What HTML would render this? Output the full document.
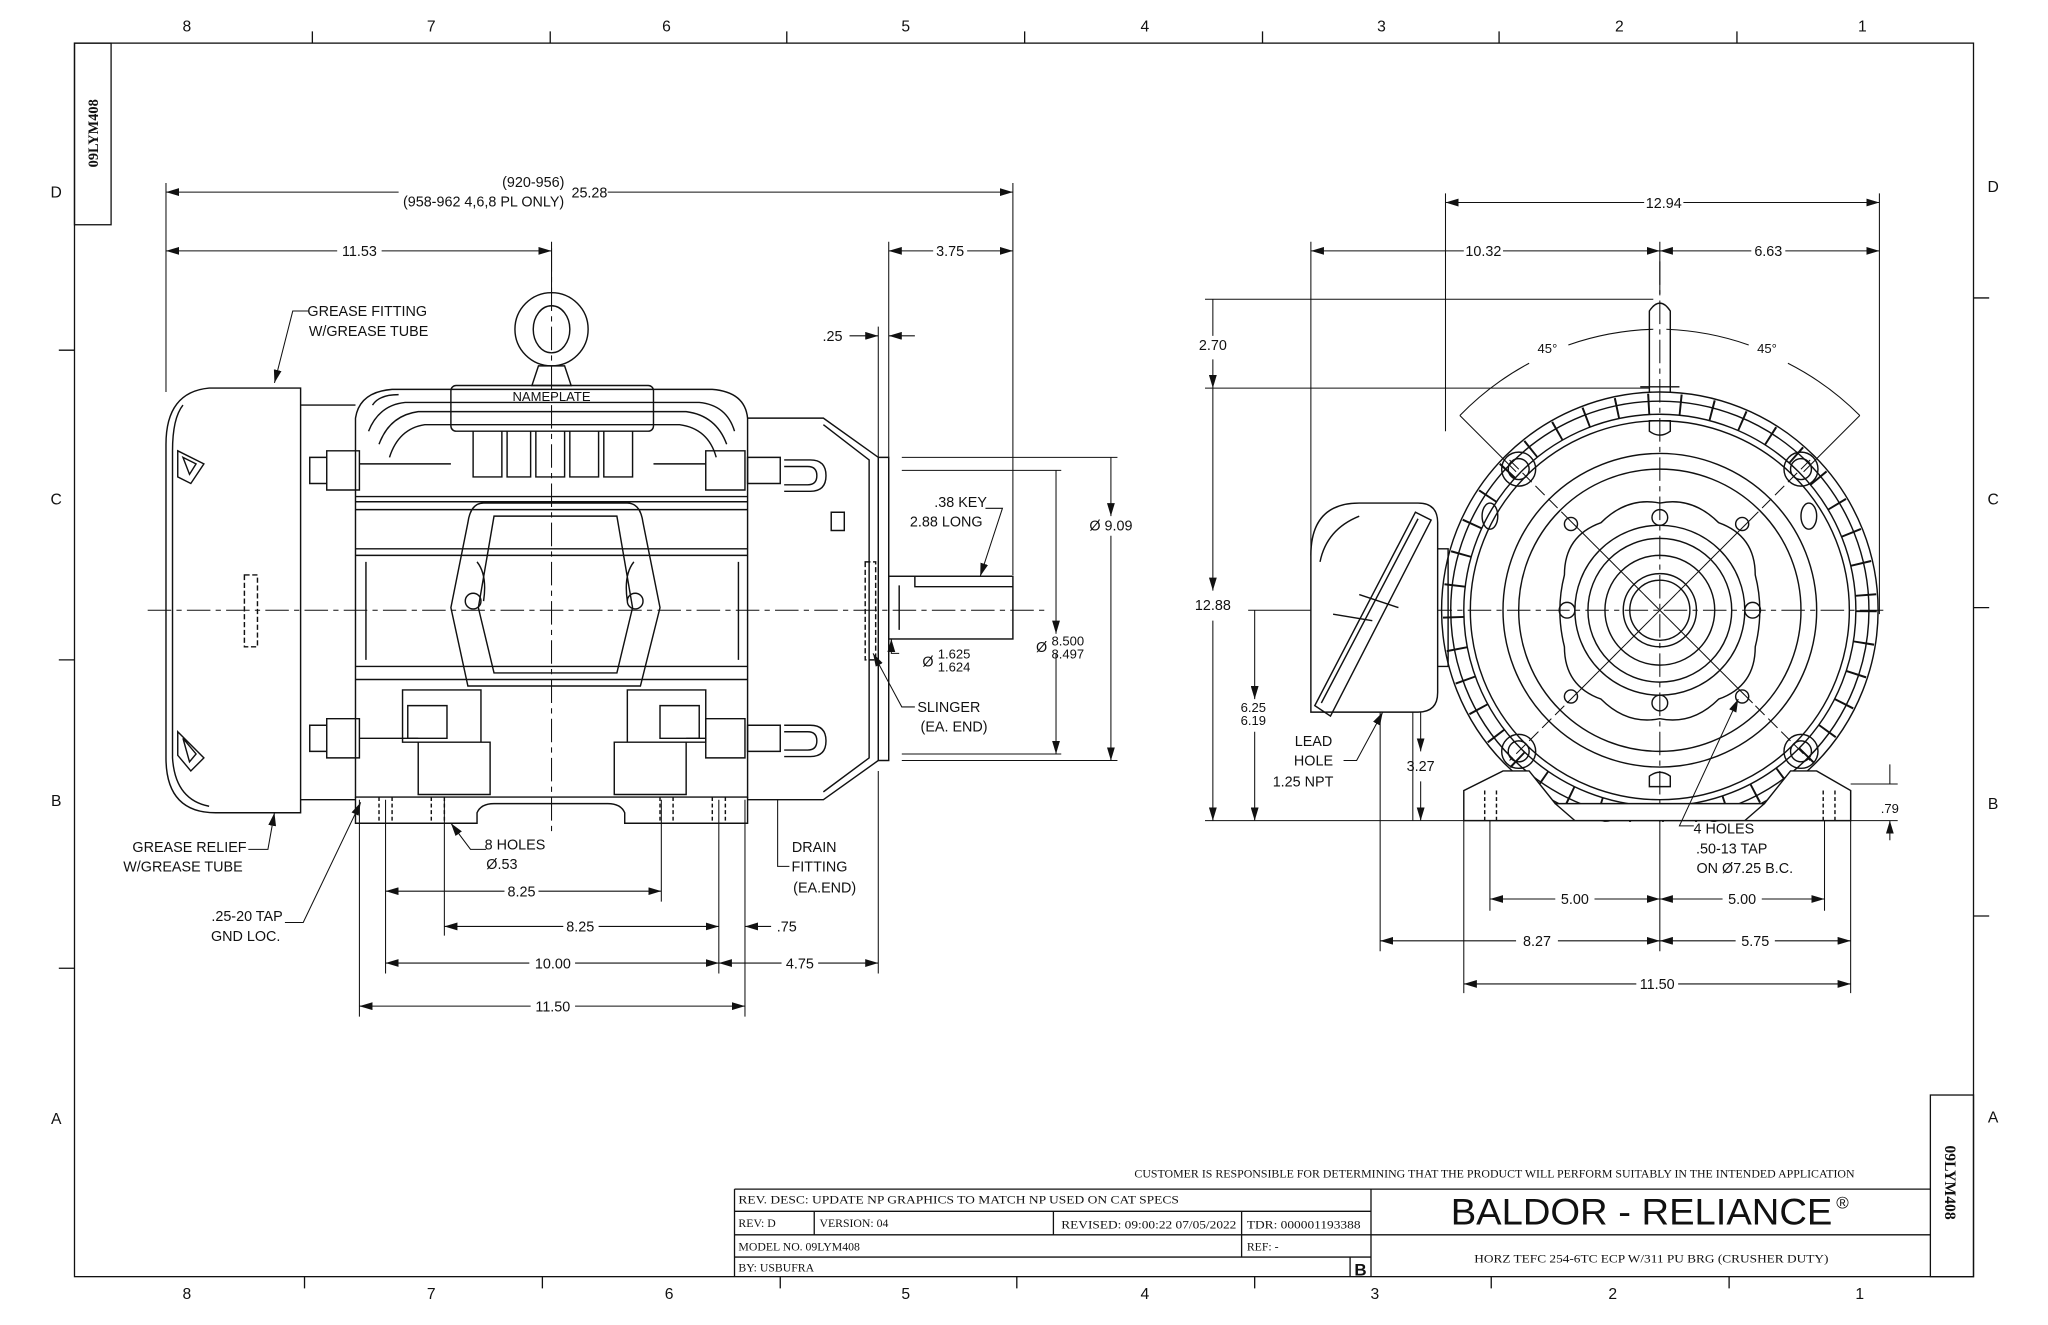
<!DOCTYPE html>
<html><head><meta charset="utf-8"><style>
html,body{margin:0;padding:0;background:#fff}
svg{display:block}
text{font-family:"Liberation Sans",sans-serif;fill:#111}
.s{font-family:"Liberation Serif",serif}
</style></head><body>
<svg width="2048" height="1325" viewBox="0 0 1567 1014" preserveAspectRatio="none" xmlns="http://www.w3.org/2000/svg">
<defs>
<marker id="a" viewBox="0 0 10 6" refX="10" refY="3" markerWidth="10" markerHeight="6" markerUnits="userSpaceOnUse" orient="auto-start-reverse"><path d="M0,0L10,3L0,6z" fill="#111"/></marker>
</defs>
<rect width="1567" height="1014" fill="#fff"/>
<g stroke="#111" fill="none" stroke-width="1">
<rect x="57" y="33" width="1453" height="944"/>
<rect x="57" y="33" width="28" height="139"/>
<rect x="1477" y="838" width="33" height="139"/>
<path d="M239,24v9M421,24v9M602,24v9M784,24v9M966,24v9M1147,24v9M1329,24v9"/>
<path d="M233,977v9M415,977v9M597,977v9M778,977v9M960,977v9M1141,977v9M1323,977v9"/>
<path d="M45,268h12M45,505h12M45,741h12M1510,228h12M1510,465h12M1510,701h12"/>
<path d="M562,910H1477M562,910V977M1049,910V977M562,927H1049M562,945H1477M562,962H1049M623,927V945M806,927V945M950,927V962M1033,962V977"/>
</g>
<g font-size="12" text-anchor="middle">
<text x="143" y="24">8</text><text x="330" y="24">7</text><text x="510" y="24">6</text><text x="693" y="24">5</text><text x="876" y="24">4</text><text x="1057" y="24">3</text><text x="1239" y="24">2</text><text x="1425" y="24">1</text>
<text x="143" y="994">8</text><text x="330" y="994">7</text><text x="512" y="994">6</text><text x="693" y="994">5</text><text x="876" y="994">4</text><text x="1052" y="994">3</text><text x="1234" y="994">2</text><text x="1423" y="994">1</text>
<text x="43" y="151">D</text><text x="43" y="386">C</text><text x="43" y="617">B</text><text x="43" y="860">A</text>
<text x="1525" y="147">D</text><text x="1525" y="386">C</text><text x="1525" y="619">B</text><text x="1525" y="859">A</text>
</g>
<text class="s" font-size="11" transform="translate(75,102) rotate(-90)" text-anchor="middle" font-weight="bold">09LYM408</text>
<text class="s" font-size="12" transform="translate(1488,905) rotate(90)" text-anchor="middle" font-weight="bold">09LYM408</text>
<g class="s" font-size="9">
<text class="s" x="868" y="901" font-size="8.5" textLength="551" lengthAdjust="spacingAndGlyphs">CUSTOMER IS RESPONSIBLE FOR DETERMINING THAT THE PRODUCT WILL PERFORM SUITABLY IN THE INTENDED APPLICATION</text>
<text class="s" x="565" y="921" textLength="337" lengthAdjust="spacingAndGlyphs">REV. DESC: UPDATE NP GRAPHICS TO MATCH NP USED ON CAT SPECS</text>
<text class="s" x="565" y="939">REV:  D</text>
<text class="s" x="627" y="939">VERSION:  04</text>
<text class="s" x="812" y="940" font-size="8.5" textLength="134" lengthAdjust="spacingAndGlyphs">REVISED:  09:00:22 07/05/2022</text>
<text class="s" x="954" y="940" font-size="8.5" textLength="87" lengthAdjust="spacingAndGlyphs">TDR: 000001193388</text>
<text class="s" x="565" y="957">MODEL NO.  09LYM408</text>
<text class="s" x="954" y="957">REF:  -</text>
<text class="s" x="565" y="973">BY: USBUFRA</text>
<text class="s" x="1128" y="966" textLength="271" lengthAdjust="spacingAndGlyphs">HORZ TEFC 254-6TC ECP W/311 PU BRG (CRUSHER DUTY)</text>
</g>
<text x="1041" y="976" font-size="13" font-weight="bold" text-anchor="middle">B</text>
<text x="1110" y="937" font-size="28" textLength="292" lengthAdjust="spacingAndGlyphs">BALDOR - RELIANCE</text>
<text x="1405" y="925" font-size="13">®</text>

<!-- LEFT VIEW -->
<g stroke="#111" fill="none" stroke-width="1.1">
<path d="M230,297H160Q127,300 127,340V580Q127,622 165,622H230Z"/>
<path d="M140,310Q132,320 132,345V580Q134,612 160,617"/>
<path d="M230,310H272M230,612H272"/>
<path d="M136,345l20,10l-10,15l-10,-5zM140,350l10,5l-5,8zM136,560l20,20l-10,10l-10,-12zM140,565l10,12l-5,6z"/>
<rect x="187" y="440" width="10" height="55" stroke-dasharray="4,2"/>
<path d="M272,320Q275,300 300,298H545Q570,300 572,320V610H272Z"/>
<path d="M285,310Q290,302 305,302M282,330Q290,310 310,308H535Q556,310 562,330M290,340Q298,318 320,315H525Q548,318 556,340M298,350Q305,328 325,325H520Q542,328 548,350"/>
<rect x="345" y="295" width="155" height="35" rx="4"/>
<path d="M362,330V365H384V330M410,330V365H432V330M436,330V365H458V330M462,330V365H484V330M388,330V365H406V330"/>
<path d="M272,380H572M272,384H572M272,390H572M272,420H572M272,425H572M272,510H572M272,520H572M280,430V505M565,430V505"/>
<path d="M250,345h25v30h-25zM237,350h13v20h-13zM540,345h30v30h-30zM572,350h25v20h-25zM275,355h70M500,355h40"/>
<path d="M250,550h25v30h-25zM237,555h13v20h-13zM540,550h30v30h-30zM572,555h25v20h-25zM275,565h45M525,565h15"/>
<path d="M600,352h20q12,0 12,12q0,12 -12,12h-20M600,555h20q12,0 12,12q0,12 -12,12h-20M600,357h18q7,0 7,7q0,7 -7,7h-18M600,560h18q7,0 7,7q0,7 -7,7h-18"/>
<path d="M370,385H480Q490,385 492,400L505,465L490,525H358L345,465L358,400Q360,385 370,385Z"/>
<path d="M378,395H472L484,465L472,515H378L366,465Z"/>
<path d="M365,430q8,10 5,30M485,430q-8,10 -5,30"/>
<circle cx="362" cy="460" r="6"/><circle cx="486" cy="460" r="6"/>
<path d="M308,528h60v40h-60zM480,528h60v40h-60zM320,568h55v40h-55zM470,568h55v40h-55zM312,540h30v25h-30zM505,540h30v25h-30z"/>
<path d="M272,610V630H365V622Q368,615 378,615H465Q475,615 478,622V630H572V610"/>
<path d="M290,610v20M300,610v20M330,610v20M340,610v20M505,610v20M515,610v20M545,610v20M555,610v20" stroke-dasharray="3,2"/>
<path d="M572,320H630L672,350V582L630,612H572"/>
<path d="M630,325L665,352V580L630,606"/>
<rect x="662" y="430" width="8" height="75" stroke-dasharray="4,2"/>
<path d="M636,392h10v14h-10z"/>
<path d="M672,350H680V582H672"/>
<rect x="680" y="441" width="95" height="48"/>
<path d="M700,441V449H775M688,448V482"/>
<circle cx="422" cy="252" r="28"/><ellipse cx="422" cy="252" rx="14" ry="18"/>
<path d="M412,280h20l5,15h-30z"/>
</g>
<g stroke="#111" stroke-width="0.8" fill="none" stroke-dasharray="18,4,4,4">
<path d="M113,467H800M422,190V640"/>
<path d="M1003,467H1445M1270,200V640"/>
</g>
<g stroke="#111" stroke-width="0.8" fill="none">
<path d="M127,140V300M775,140V440M422,185V225M680,185V441M672,250V350M275,612V778M570,612V778M295,612V745M340,612V716M550,612V745M506,612V690M672,590V745M690,350H855M690,582H855M690,360H812M690,577H812"/>
<path d="M127,147H305M465,147H775" marker-start="url(#a)" marker-end="url(#a)"/>
<path d="M127,192H258M292,192H422" marker-start="url(#a)" marker-end="url(#a)"/>
<path d="M680,192H714M740,192H775" marker-start="url(#a)" marker-end="url(#a)"/>
<path d="M650,257H672" marker-end="url(#a)"/><path d="M700,257H680" marker-end="url(#a)"/>
<path d="M850,395V350M850,410V582" marker-start="url(#a)" marker-end="url(#a)"/>
<path d="M808,485V360M808,500V577" marker-start="url(#a)" marker-end="url(#a)"/>
<path d="M295,682H386M412,682H506" marker-start="url(#a)" marker-end="url(#a)"/>
<path d="M340,709H431M458,709H550" marker-start="url(#a)" marker-end="url(#a)"/>
<path d="M590,709H570" marker-end="url(#a)"/>
<path d="M295,737H405M440,737H550" marker-start="url(#a)" marker-end="url(#a)"/>
<path d="M550,737H598M626,737H672" marker-start="url(#a)" marker-end="url(#a)"/>
<path d="M275,770H406M440,770H570" marker-start="url(#a)" marker-end="url(#a)"/>
<path d="M236,238H224L210,293" marker-end="url(#a)"/>
<path d="M754,389H767L750,441" marker-end="url(#a)"/>
<path d="M700,541H690L668,500" marker-end="url(#a)"/>
<path d="M190,650H205L210,622" marker-end="url(#a)"/>
<path d="M218,706H232L276,614" marker-end="url(#a)"/>
<path d="M372,650H360L345,630" marker-end="url(#a)"/>
<path d="M604,663H595V612"/>
<path d="M688,500H682V489" marker-end="url(#a)"/>
</g>
<g font-size="11" text-anchor="middle">
<text x="408" y="143">(920-956)</text><text x="370" y="158">(958-962 4,6,8 PL ONLY)</text><text x="451" y="151">25.28</text>
<text x="275" y="196">11.53</text><text x="727" y="196">3.75</text><text x="637" y="261">.25</text>
<text x="735" y="388">.38 KEY</text><text x="724" y="403">2.88 LONG</text>
<text x="850" y="406">Ø 9.09</text>
<text x="817" y="494" font-size="10">8.500</text><text x="817" y="504" font-size="10">8.497</text><text x="797" y="499">Ø</text>
<text x="730" y="504" font-size="10">1.625</text><text x="730" y="514" font-size="10">1.624</text><text x="710" y="510">Ø</text>
<text x="726" y="545">SLINGER</text><text x="730" y="560">(EA. END)</text>
<text x="281" y="242">GREASE FITTING</text><text x="282" y="257">W/GREASE TUBE</text>
<text x="145" y="652">GREASE RELIEF</text><text x="140" y="667">W/GREASE TUBE</text>
<text x="189" y="705">.25-20 TAP</text><text x="188" y="720">GND LOC.</text>
<text x="394" y="650">8 HOLES</text><text x="384" y="665">Ø.53</text>
<text x="623" y="652">DRAIN</text><text x="627" y="667">FITTING</text><text x="631" y="683">(EA.END)</text>
<text x="399" y="686">8.25</text><text x="444" y="713">8.25</text><text x="602" y="713">.75</text>
<text x="423" y="741">10.00</text><text x="612" y="741">4.75</text><text x="423" y="774">11.50</text>
<text x="422" y="307" font-size="10">NAMEPLATE</text>
</g>

<!-- RIGHT VIEW -->
<g stroke="#111" fill="none" stroke-width="1.1">
<circle cx="1270" cy="467" r="158" stroke-width="16" stroke-dasharray="1.5,23"/>
<circle cx="1270" cy="467" r="167"/>
<circle cx="1270" cy="467" r="160"/>
<circle cx="1270" cy="467" r="150"/>
<circle cx="1270" cy="467" r="145"/>
<circle cx="1270" cy="467" r="120"/>
<circle cx="1270" cy="467" r="108"/>
<path d="M1197,440Q1197,410 1225,400Q1245,380 1270,385Q1295,380 1315,400Q1343,410 1343,440Q1350,467 1343,495Q1343,525 1315,535Q1295,555 1270,550Q1245,555 1225,535Q1197,525 1197,495Q1190,467 1197,440Z"/>
<circle cx="1270" cy="467" r="65"/>
<circle cx="1270" cy="467" r="55"/>
<circle cx="1270" cy="467" r="42"/>
<circle cx="1270" cy="467" r="28"/>
<circle cx="1270" cy="467" r="23"/>
<circle cx="1270" cy="396" r="6"/><circle cx="1270" cy="538" r="6"/><circle cx="1199" cy="467" r="6"/><circle cx="1341" cy="467" r="6"/>
<circle cx="1202" cy="401" r="5"/><circle cx="1333" cy="401" r="5"/><circle cx="1202" cy="533" r="5"/><circle cx="1333" cy="533" r="5"/>
<circle cx="1162" cy="359" r="8"/><circle cx="1378" cy="359" r="8"/><circle cx="1162" cy="575" r="8"/><circle cx="1378" cy="575" r="8"/>
<circle cx="1162" cy="359" r="13"/><circle cx="1378" cy="359" r="13"/><circle cx="1162" cy="575" r="13"/><circle cx="1378" cy="575" r="13"/>
<ellipse cx="1140" cy="395" rx="6" ry="10"/><ellipse cx="1384" cy="395" rx="6" ry="10"/>
<path d="M1262,322h16v8q-8,6 -16,0zM1262,602h16v-8q-8,-6 -16,0z"/>
<rect x="1100" y="629" width="340" height="10" fill="#fff" stroke="none"/>
<path d="M1262,300V238Q1270,226 1278,238V300M1255,296h30"/>
<path d="M1120,628V605L1150,590H1170L1190,615H1350L1370,590H1390L1416,605V628Z" fill="#fff"/>
<path d="M1190,615L1205,628M1350,615L1335,628"/>
<path d="M1136,605v23M1145,605v23M1395,605v23M1404,605v23" stroke-dasharray="3,2"/>
<path d="M1003,545V425Q1003,385 1040,385H1085Q1100,385 1100,400V530Q1100,545 1085,545Z" fill="#fff"/>
<path d="M1006,540L1083,392L1095,398L1018,548Z"/>
<path d="M1011,538L1085,397"/>
<path d="M1100,420h8v90h-8"/>
<path d="M1040,455l30,10M1020,470l30,5M1010,430q5,-25 30,-35"/>
</g>
<g stroke="#111" stroke-width="0.8" fill="none">
<path d="M1199,396L1341,538M1341,396L1199,538M1155,352L1385,582M1385,352L1155,582" stroke-dasharray="10,4"/>
<path d="M1106,148V330M1438,148V470M1003,185V425M1270,185V225"/>
<path d="M922,229H1265M922,297H1262M922,628H1120M955,467H1003M1056,545V728M1081,545V628M1416,605V760M1120,628V760M1140,628V697M1396,628V697M1416,600H1452M1416,628H1452M1270,628V728"/>
<path d="M1106,155H1258M1288,155H1438" marker-start="url(#a)" marker-end="url(#a)"/>
<path d="M1003,192H1120M1150,192H1270" marker-start="url(#a)" marker-end="url(#a)"/>
<path d="M1270,192H1340M1366,192H1438" marker-start="url(#a)" marker-end="url(#a)"/>
<path d="M928,257V229M928,275V297" marker-end="url(#a)"/>
<path d="M928,452V297M928,475V628" marker-start="url(#a)" marker-end="url(#a)"/>
<path d="M960,535V467M960,560V628" marker-start="url(#a)" marker-end="url(#a)"/>
<path d="M1087,575V545M1087,598V628" marker-start="url(#a)" marker-end="url(#a)"/>
<path d="M1446,585V600M1446,643V628" marker-end="url(#a)"/>
<path d="M1140,688H1190M1220,688H1270" marker-start="url(#a)" marker-end="url(#a)"/>
<path d="M1270,688H1318M1348,688H1396" marker-start="url(#a)" marker-end="url(#a)"/>
<path d="M1056,720H1160M1192,720H1270" marker-start="url(#a)" marker-end="url(#a)"/>
<path d="M1270,720H1328M1358,720H1416" marker-start="url(#a)" marker-end="url(#a)"/>
<path d="M1120,753H1252M1284,753H1416" marker-start="url(#a)" marker-end="url(#a)"/>
<path d="M1117,318A215,215 0 0,1 1170,278M1200,264A215,215 0 0,1 1265,252M1275,252A215,215 0 0,1 1338,264M1368,278A215,215 0 0,1 1423,318" />
<path d="M1117,318L1160,361M1423,318L1380,361"/>
<path d="M1028,582H1038L1058,545" marker-end="url(#a)"/>
<path d="M1296,632H1285L1330,535" marker-end="url(#a)"/>
</g>
<g font-size="11" text-anchor="middle">
<text x="1273" y="159">12.94</text><text x="1135" y="196">10.32</text><text x="1353" y="196">6.63</text>
<text x="928" y="268">2.70</text><text x="928" y="467">12.88</text>
<text x="959" y="545" font-size="10">6.25</text><text x="959" y="555" font-size="10">6.19</text>
<text x="1087" y="590">3.27</text><text x="1446" y="622" font-size="10">.79</text>
<text x="1005" y="571">LEAD</text><text x="1005" y="586">HOLE</text><text x="997" y="602">1.25 NPT</text>
<text x="1319" y="638">4 HOLES</text><text x="1325" y="653">.50-13 TAP</text><text x="1335" y="668">ON Ø7.25 B.C.</text>
<text x="1184" y="270" font-size="10">45°</text><text x="1352" y="270" font-size="10">45°</text>
<text x="1205" y="692">5.00</text><text x="1333" y="692">5.00</text>
<text x="1176" y="724">8.27</text><text x="1343" y="724">5.75</text><text x="1268" y="757">11.50</text>
</g>
</svg>
</body></html>
